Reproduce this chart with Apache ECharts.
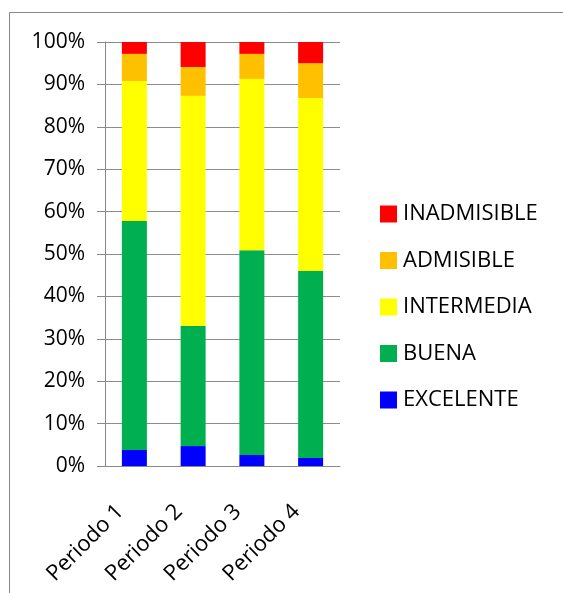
<!DOCTYPE html>
<html>
<head>
    <meta charset="utf-8">
    <title>ECharts</title>
    <script src="https://cdn.jsdelivr.net/npm/echarts/dist/echarts.min.js"></script>
    <style>
        body { margin: 0; background: #fff; }
    </style>
</head>
<body>
    <div id="main" style="width: 563px;height:593px;"></div>
    <script>
        // data (percent of each period)
        var periods = ['Periodo 1', 'Periodo 2', 'Periodo 3', 'Periodo 4'];
        var excelente = [3.8, 4.7, 2.6, 1.9];
        var buena = [54.0, 28.3, 48.3, 44.1];
        var intermedia = [33.0, 54.3, 40.4, 40.8];
        var admisible = [6.4, 6.8, 5.9, 8.2];
        var inadmisible = [2.8, 5.9, 2.8, 5.0];

        var names = ['EXCELENTE', 'BUENA', 'INTERMEDIA', 'ADMISIBLE', 'INADMISIBLE'];
        var colors = ['#0000FF', '#00B050', '#FFFF00', '#FFC000', '#FF0000'];
        var values = [excelente, buena, intermedia, admisible, inadmisible];

        var chartDom = document.getElementById('main');
        var myChart = echarts.init(chartDom);
        var font = 'Open Sans';

        var series = names.map(function (n, i) {
            return {
                name: n,
                type: 'bar',
                stack: 'total',
                barWidth: 25,
                itemStyle: { color: colors[i] },
                data: values[i]
            };
        });

        var option = {
            animation: false,
            textStyle: { fontFamily: font },
            graphic: [{
                type: 'polyline',
                shape: { points: [[9.5, 600], [9.5, 12.5], [600, 12.5]] },
                style: { stroke: '#888', lineWidth: 1, fill: null }
            }],
            legend: {
                orient: 'vertical',
                left: 375,
                top: 198,
                itemWidth: 17,
                itemHeight: 17,
                itemGap: 24.5,
                icon: 'rect',
                data: names.slice().reverse(),
                textStyle: { fontSize: 22, color: '#000', fontFamily: font, padding: [0, 0, 0, 1] }
            },
            grid: {
                left: 105,
                right: 223,
                top: 42,
                bottom: 127
            },
            xAxis: {
                type: 'category',
                data: periods,
                axisLine: { lineStyle: { color: '#888' } },
                axisTick: { length: 8, lineStyle: { color: '#888' } },
                axisLabel: {
                    rotate: 45,
                    fontSize: 22,
                    color: '#000',
                    margin: 28,
                    padding: [0, 20, 0, 0]
                }
            },
            yAxis: {
                type: 'value',
                min: 0,
                max: 100,
                interval: 10,
                axisLine: { show: true, lineStyle: { color: '#888' } },
                axisTick: { show: true, length: 8, lineStyle: { color: '#888' } },
                axisLabel: {
                    formatter: '{value}%',
                    fontSize: 21,
                    color: '#000',
                    margin: 20
                },
                splitLine: { lineStyle: { color: '#8c8c8c', width: 1 } }
            },
            series: series
        };

        myChart.setOption(option);
    </script>
</body>
</html>
